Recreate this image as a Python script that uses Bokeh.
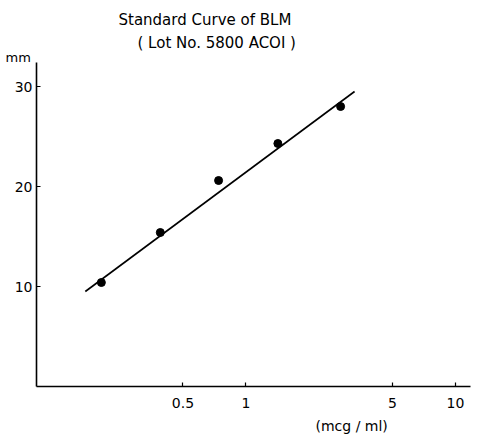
from bokeh.plotting import figure
from bokeh.models import Range1d, FixedTicker, NumeralTickFormatter, Title
from bokeh.embed import file_html
from bokeh.resources import INLINE

# data
conc = [0.204, 0.39, 0.74, 1.42, 2.83]          # mcg/ml
zone = [10.4, 15.4, 20.6, 24.3, 28.0]           # mm
fit_x = [0.171, 3.30]
fit_y = [9.5, 29.5]
x_ticks = [0.5, 1, 5, 10]
y_ticks = [10, 20, 30]

FONT = "DejaVu Sans"

p = figure(width=472, height=438, x_axis_type="log",
           x_range=Range1d(0.1, 11.8), y_range=Range1d(0, 32.4),
           output_backend="svg", toolbar_location=None,
           min_border_left=36, min_border_right=2,
           min_border_top=62, min_border_bottom=52)
p.outline_line_color = None
p.grid.visible = False
p.background_fill_color = "white"

for ax in (p.xaxis[0], p.yaxis[0]):
    ax.axis_line_width = 1.6
    ax.axis_line_color = "black"
    ax.major_tick_in = 4
    ax.major_tick_out = 0
    ax.major_tick_line_width = 1.2
    ax.minor_tick_line_color = None
    ax.major_label_text_font = FONT
    ax.major_label_text_font_size = "14px"
    ax.major_label_text_color = "black"

p.xaxis.ticker = FixedTicker(ticks=x_ticks)
p.xaxis.formatter = NumeralTickFormatter(format="0.[0]")
p.xaxis.major_label_standoff = 11
p.yaxis.ticker = FixedTicker(ticks=y_ticks)
p.yaxis.major_label_standoff = 4

p.line(fit_x, fit_y, line_color="black", line_width=1.6)
p.scatter(conc, zone, size=8, fill_color="black", line_color="black")

def ttl(text, offset, loc, size="14px", standoff=0):
    p.add_layout(Title(text=text, align="left", offset=offset, standoff=standoff,
                       text_font=FONT, text_font_size=size, text_font_style="normal",
                       text_color="black"), loc)

ttl("mm", -31, "above", size="13px", standoff=-4)
ttl("( Lot No. 5800 ACOI )", 101, "above", size="15px", standoff=-4)
ttl("Standard Curve of BLM", 82, "above", size="15px", standoff=10)
ttl("(mcg / ml)", 279, "below", size="14px", standoff=10)

open("out.html", "w").write(file_html(p, INLINE))
